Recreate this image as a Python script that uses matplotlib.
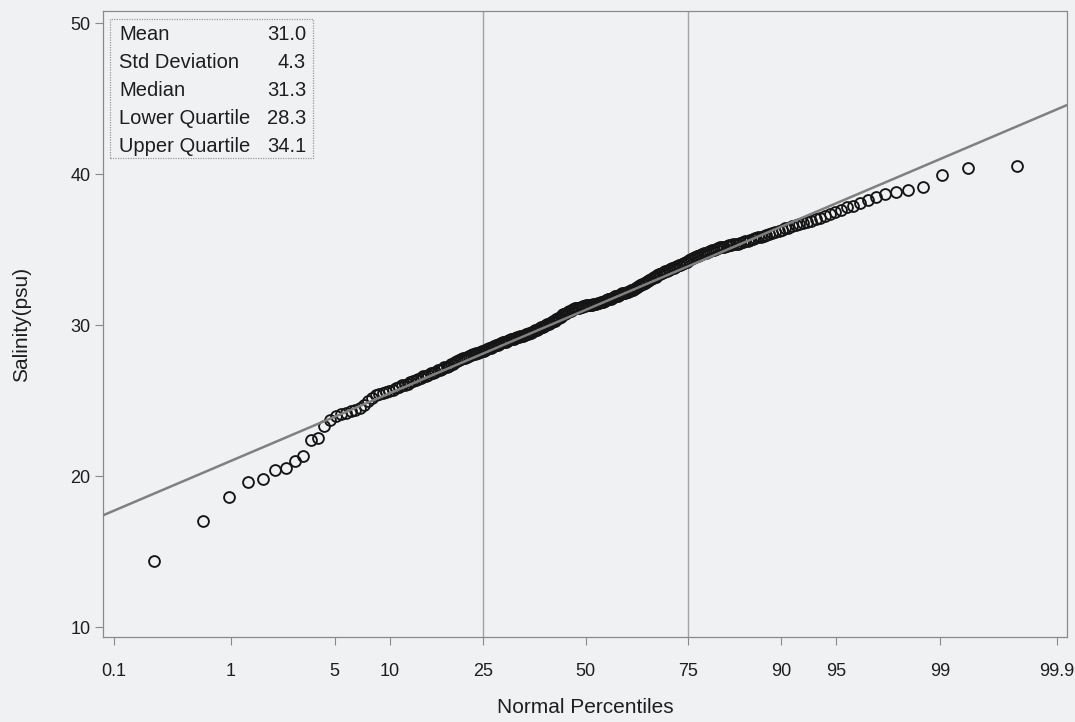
import numpy as np
import matplotlib
matplotlib.use("Agg")
import matplotlib.pyplot as plt
from matplotlib.patches import Rectangle
from statistics import NormalDist

plt.rcParams['font.family'] = ['Liberation Sans', 'DejaVu Sans']

# ---- data (sorted salinity values) ----
salinity = [
    14.4, 17.0, 18.6, 19.6, 19.8, 20.4, 20.5, 21.0, 21.3, 22.4,
    22.5, 23.3, 23.7, 24.0, 24.1, 24.2, 24.3, 24.4, 24.5, 24.7,
    25.0, 25.2, 25.4, 25.45, 25.5, 25.55, 25.6, 25.7, 25.8, 25.9,
    26.0, 26.05, 26.1, 26.2, 26.3, 26.35, 26.4, 26.5, 26.6, 26.65,
    26.7, 26.8, 26.85, 26.9, 27.0, 27.05, 27.1, 27.2, 27.25, 27.3,
    27.4, 27.45, 27.55, 27.6, 27.7, 27.75, 27.8, 27.85, 27.9, 27.95,
    28.0, 28.05, 28.1, 28.15, 28.15, 28.2, 28.25, 28.3, 28.35, 28.4,
    28.45, 28.5, 28.55, 28.6, 28.65, 28.7, 28.75, 28.8, 28.85, 28.9,
    28.9, 28.95, 29.0, 29.05, 29.1, 29.1, 29.15, 29.2, 29.2, 29.25,
    29.3, 29.3, 29.35, 29.4, 29.4, 29.45, 29.5, 29.55, 29.6, 29.65,
    29.7, 29.75, 29.8, 29.85, 29.9, 29.95, 30.0, 30.05, 30.1, 30.15,
    30.2, 30.25, 30.3, 30.4, 30.45, 30.5, 30.55, 30.65, 30.7, 30.75,
    30.8, 30.85, 30.9, 30.95, 31.0, 31.05, 31.1, 31.1, 31.15, 31.15,
    31.2, 31.2, 31.25, 31.25, 31.3, 31.3, 31.3, 31.35, 31.35, 31.4,
    31.4, 31.4, 31.45, 31.45, 31.5, 31.5, 31.55, 31.6, 31.65, 31.7,
    31.7, 31.75, 31.8, 31.85, 31.9, 31.9, 31.95, 32.0, 32.05, 32.1,
    32.1, 32.15, 32.2, 32.2, 32.25, 32.3, 32.35, 32.4, 32.45, 32.5,
    32.6, 32.65, 32.7, 32.75, 32.8, 32.85, 32.9, 33.0, 33.05, 33.1,
    33.15, 33.2, 33.3, 33.35, 33.4, 33.45, 33.5, 33.55, 33.6, 33.65,
    33.7, 33.75, 33.8, 33.85, 33.9, 33.95, 34.0, 34.05, 34.1, 34.15,
    34.2, 34.3, 34.4, 34.45, 34.5, 34.55, 34.6, 34.65, 34.7, 34.75,
    34.8, 34.85, 34.9, 34.95, 35.0, 35.05, 35.1, 35.15, 35.2, 35.2,
    35.25, 35.3, 35.3, 35.35, 35.35, 35.4, 35.45, 35.5, 35.55, 35.6,
    35.65, 35.7, 35.75, 35.8, 35.85, 35.9, 35.95, 36.0, 36.1, 36.15,
    36.25, 36.3, 36.4, 36.45, 36.55, 36.6, 36.7, 36.75, 36.8, 36.9,
    37.0, 37.1, 37.25, 37.35, 37.5, 37.65, 37.8, 37.9, 38.1, 38.25,
    38.5, 38.7, 38.8, 38.97, 39.15, 39.95, 40.37, 40.56,
]

stat_names = ["Mean", "Std Deviation", "Median", "Lower Quartile", "Upper Quartile"]
stat_values = [31.0, 4.3, 31.3, 28.3, 34.1]

x_ticks = [0.1, 1, 5, 10, 25, 50, 75, 90, 95, 99, 99.9]
x_tick_labels = ["0.1", "1", "5", "10", "25", "50", "75", "90", "95", "99", "99.9"]
grid_percentiles = [25, 75]
y_ticks = [10, 20, 30, 40, 50]

# ---- normal-probability scale ----
_nd = NormalDist()
_ppf = np.vectorize(lambda q: _nd.inv_cdf(q), otypes=[float])
_cdf = np.vectorize(lambda z: _nd.cdf(z), otypes=[float])


def _fwd(p):
    p = np.clip(np.asarray(p, dtype=float) / 100.0, 1e-9, 1 - 1e-9)
    return _ppf(p)


def _inv(z):
    z = np.clip(np.asarray(z, dtype=float), -30, 30)
    return _cdf(z) * 100.0


n = len(salinity)
ranks = np.arange(1, n + 1)
plot_pct = (ranks - 0.375) / (n + 0.25) * 100.0  # Blom plotting positions

bg = "#f0f1f3"
txt = "#1e1e1e"
fig = plt.figure(figsize=(10.75, 7.22), dpi=100, facecolor=bg)
ax = fig.add_axes([103 / 1075, 1 - 637 / 722, (1067 - 103) / 1075, (637 - 11) / 722])
ax.set_facecolor(bg)
ax.set_xscale("function", functions=(_fwd, _inv))

xlim = (0.078, 99.92)
ax.set_xlim(*xlim)
ax.set_ylim(9.34, 50.8)

for g in grid_percentiles:
    ax.axvline(g, color="#a3a3a3", lw=1.0, zorder=1)

# reference line from mean and std
line_pct = np.array([xlim[0], 50.0, xlim[1]])
line_y = stat_values[0] + stat_values[1] * _fwd(line_pct)
ax.plot(line_pct, line_y, color="#808080", lw=1.8, zorder=4)

ax.plot(plot_pct, salinity, linestyle="none", marker="o", markersize=7.8,
        markerfacecolor="none", markeredgecolor="#151515", markeredgewidth=1.35, zorder=3)

ax.set_xticks(x_ticks)
ax.set_xticklabels(x_tick_labels)
ax.xaxis.set_minor_locator(matplotlib.ticker.NullLocator())
ax.set_yticks(y_ticks)
ax.tick_params(axis="both", direction="out", length=6, width=0.8, color="#8a8a8a",
               labelsize=13, labelcolor=txt, pad=3)
ax.tick_params(axis="x", pad=13)

for s in ax.spines.values():
    s.set_linestyle((0, (1, 1)))
    s.set_color("#8a8a8a")
    s.set_linewidth(0.9)

ax.set_xlabel("Normal Percentiles", fontsize=15, color=txt, labelpad=13)
ax.set_ylabel("Salinity(psu)", fontsize=15, color=txt, labelpad=28)


# statistics box
def ax_x(px):
    return (px - 103) / 964.0


def ax_y(py):
    return (637 - py) / 626.0


box = Rectangle((ax_x(110), ax_y(158)), ax_x(313) - ax_x(110), ax_y(19) - ax_y(158),
                transform=ax.transAxes, facecolor="none", edgecolor="#9a9a9a",
                linestyle=(0, (1, 1)), linewidth=0.9, zorder=5)
ax.add_patch(box)
row_y = [34, 62, 90, 118, 146]
for name, val, ry in zip(stat_names, stat_values, row_y):
    ax.text(ax_x(119), ax_y(ry), name, transform=ax.transAxes, ha="left", va="center",
            fontsize=14.5, color=txt, zorder=6)
    ax.text(ax_x(306), ax_y(ry), f"{val:.1f}", transform=ax.transAxes, ha="right", va="center",
            fontsize=14.5, color=txt, zorder=6)

fig.savefig("out.png", dpi=100, facecolor=bg)
